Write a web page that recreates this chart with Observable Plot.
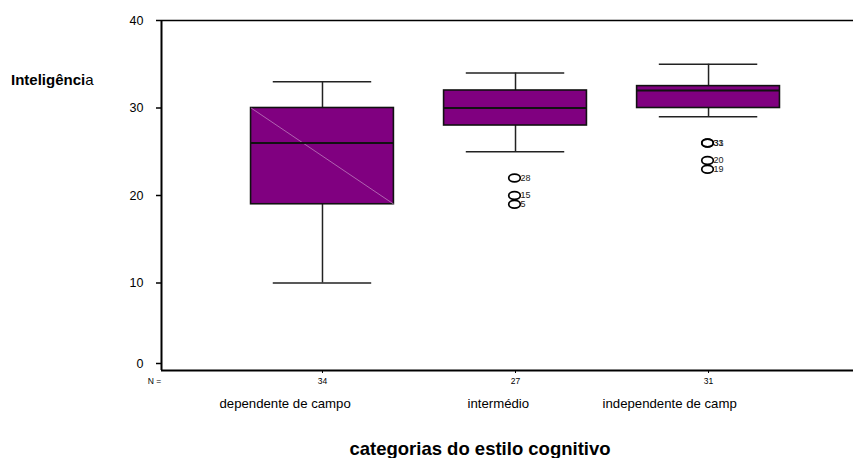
<!DOCTYPE html>
<html>
<head>
<meta charset="utf-8">
<script src="https://cdn.jsdelivr.net/npm/d3@7"></script>
<script src="https://cdn.jsdelivr.net/npm/@observablehq/plot@0.6"></script>
<style>
  body { margin: 0; background: #fff; font-family: "Liberation Sans", Arial, sans-serif; overflow: hidden; }
  #wrap { position: relative; width: 853px; height: 458px; overflow: hidden; }
  #ylab { position: absolute; left: 11px; top: 71px; font-size: 15px; color: #000; }
  #xlab { position: absolute; left: 0; width: 960px; text-align: center; top: 438px; font-size: 18.5px; font-weight: bold; color: #000; }
</style>
</head>
<body>
<div id="wrap">
  <div id="chart"></div>
  <div id="ylab"><b>Inteligênci</b>a</div>
  <div id="xlab">categorias do estilo cognitivo</div>
</div>
<script>
const categories = ["dependente de campo", "intermédio", "independente de camp"];
const nCounts = [34, 27, 31];
const whiskerLow = [10, 25, 29];
const q1 = [19, 28, 30];
const median = [26, 30, 32];
const q3 = [30, 32, 32.5];
const whiskerHigh = [33, 34, 35];

const outlierCat = [2, 2, 2, 3, 3, 3, 3];
const outlierValue = [22, 20, 19, 26, 26, 24, 23];
const outlierLabel = ["28", "15", "5", "31", "33", "20", "19"];

const yTicks = [0, 10, 20, 30, 40];

// layout constants (styling only)
const boxHalf = 0.37;
const capHalf = 0.255;
const catLabelDx = [-103, -48, -106];

const boxes = categories.map((c, i) => ({
  pos: i + 1, name: c, n: nCounts[i], lo: whiskerLow[i], q1: q1[i], med: median[i], q3: q3[i], hi: whiskerHigh[i], ldx: catLabelDx[i]
}));
const outliers = outlierValue.map((v, i) => ({ pos: outlierCat[i], v, label: outlierLabel[i] }));

const ellipse = {
  draw(ctx, size) {
    const rx = 5.8, ry = 3.9, k = 0.5523;
    ctx.moveTo(rx, 0);
    ctx.bezierCurveTo(rx, ry * k, rx * k, ry, 0, ry);
    ctx.bezierCurveTo(-rx * k, ry, -rx, ry * k, -rx, 0);
    ctx.bezierCurveTo(-rx, -ry * k, -rx * k, -ry, 0, -ry);
    ctx.bezierCurveTo(rx * k, -ry, rx, -ry * k, rx, 0);
    ctx.closePath();
  }
};

const chart = Plot.plot({
  width: 853,
  height: 458,
  marginLeft: 161,
  marginRight: 0,
  marginTop: 20,
  marginBottom: 88,
  style: { fontFamily: "Liberation Sans, Arial, sans-serif", color: "#000", background: "#fff" },
  x: { domain: [0.166, 3.751], axis: null },
  y: { domain: [0, 40], axis: null },
  marks: [
    Plot.ruleY([40], { stroke: "#000", strokeWidth: 1.5 }),
    Plot.ruleX([0.166], { stroke: "#000", strokeWidth: 2 }),
    // whiskers
    Plot.ruleX(boxes, { x: "pos", y1: "q3", y2: "hi", stroke: "#222", strokeWidth: 1.5 }),
    Plot.ruleX(boxes, { x: "pos", y1: "lo", y2: "q1", stroke: "#222", strokeWidth: 1.5 }),
    Plot.ruleY(boxes, { y: "hi", x1: d => d.pos - capHalf, x2: d => d.pos + capHalf, stroke: "#222", strokeWidth: 1.5 }),
    Plot.ruleY(boxes, { y: "lo", x1: d => d.pos - capHalf, x2: d => d.pos + capHalf, stroke: "#222", strokeWidth: 1.5 }),
    // boxes
    Plot.rect(boxes, { x1: d => d.pos - boxHalf, x2: d => d.pos + boxHalf, y1: "q1", y2: "q3", fill: "#800080", stroke: "#111", strokeWidth: 1.6 }),
    Plot.link(boxes.slice(0, 1), { x1: d => d.pos - boxHalf, y1: "q3", x2: d => d.pos + boxHalf, y2: "q1", stroke: "#c58cc5", strokeWidth: 0.7 }),
    Plot.ruleY(boxes, { y: "med", x1: d => d.pos - boxHalf, x2: d => d.pos + boxHalf, stroke: "#111", strokeWidth: 2 }),
    // outliers
    Plot.dot(outliers, { x: "pos", y: "v", symbol: ellipse, r: 4, stroke: "#000", strokeWidth: 1.7, fill: "none", dx: -1 }),
    Plot.text(outliers, { x: "pos", y: "v", text: "label", textAnchor: "start", dx: 5, fontSize: 9, fill: "#222" }),
    // y axis
    Plot.axisY({ ticks: yTicks.filter(t => t > 0), label: null, tickSize: 5, tickPadding: 13, fontSize: 12.5, strokeWidth: 1.5, stroke: "#000" }),
    Plot.axisY({ ticks: yTicks.filter(t => t === 0), label: null, tickSize: 5, tickPadding: 13, fontSize: 12.5, dy: -7, strokeWidth: 1.5, tickFormat: d => d }),
    Plot.ruleY([0], { stroke: "#000", strokeWidth: 2.2 }),
    // x axis: N counts
    Plot.axisX({ ticks: boxes.map(b => b.pos), label: null, tickSize: 3, tickPadding: 4, fontSize: 8.5, tickFormat: d => String(nCounts[d - 1]), stroke: "#000" }),
    // category names
    Plot.text(boxes, { x: "pos", y: 0, text: "name", textAnchor: "start", fontSize: 13.2, render: (index, scales, values, dims, ctx, next) => {
      const g = next(index, scales, values, dims, ctx);
      d3.select(g).selectAll("text").each(function(_, j) {
        const b = boxes[index[j]];
        d3.select(this).attr("transform", `translate(${values.x[index[j]] + b.ldx},${values.y[index[j]] + 33})`);
      });
      return g;
    } }),
    Plot.text(["N ="], { frameAnchor: "bottom-left", text: d => d, dx: -7, dy: 13, fontSize: 8.5, textAnchor: "middle" })
  ]
});
document.getElementById("chart").appendChild(chart);
</script>
</body>
</html>
